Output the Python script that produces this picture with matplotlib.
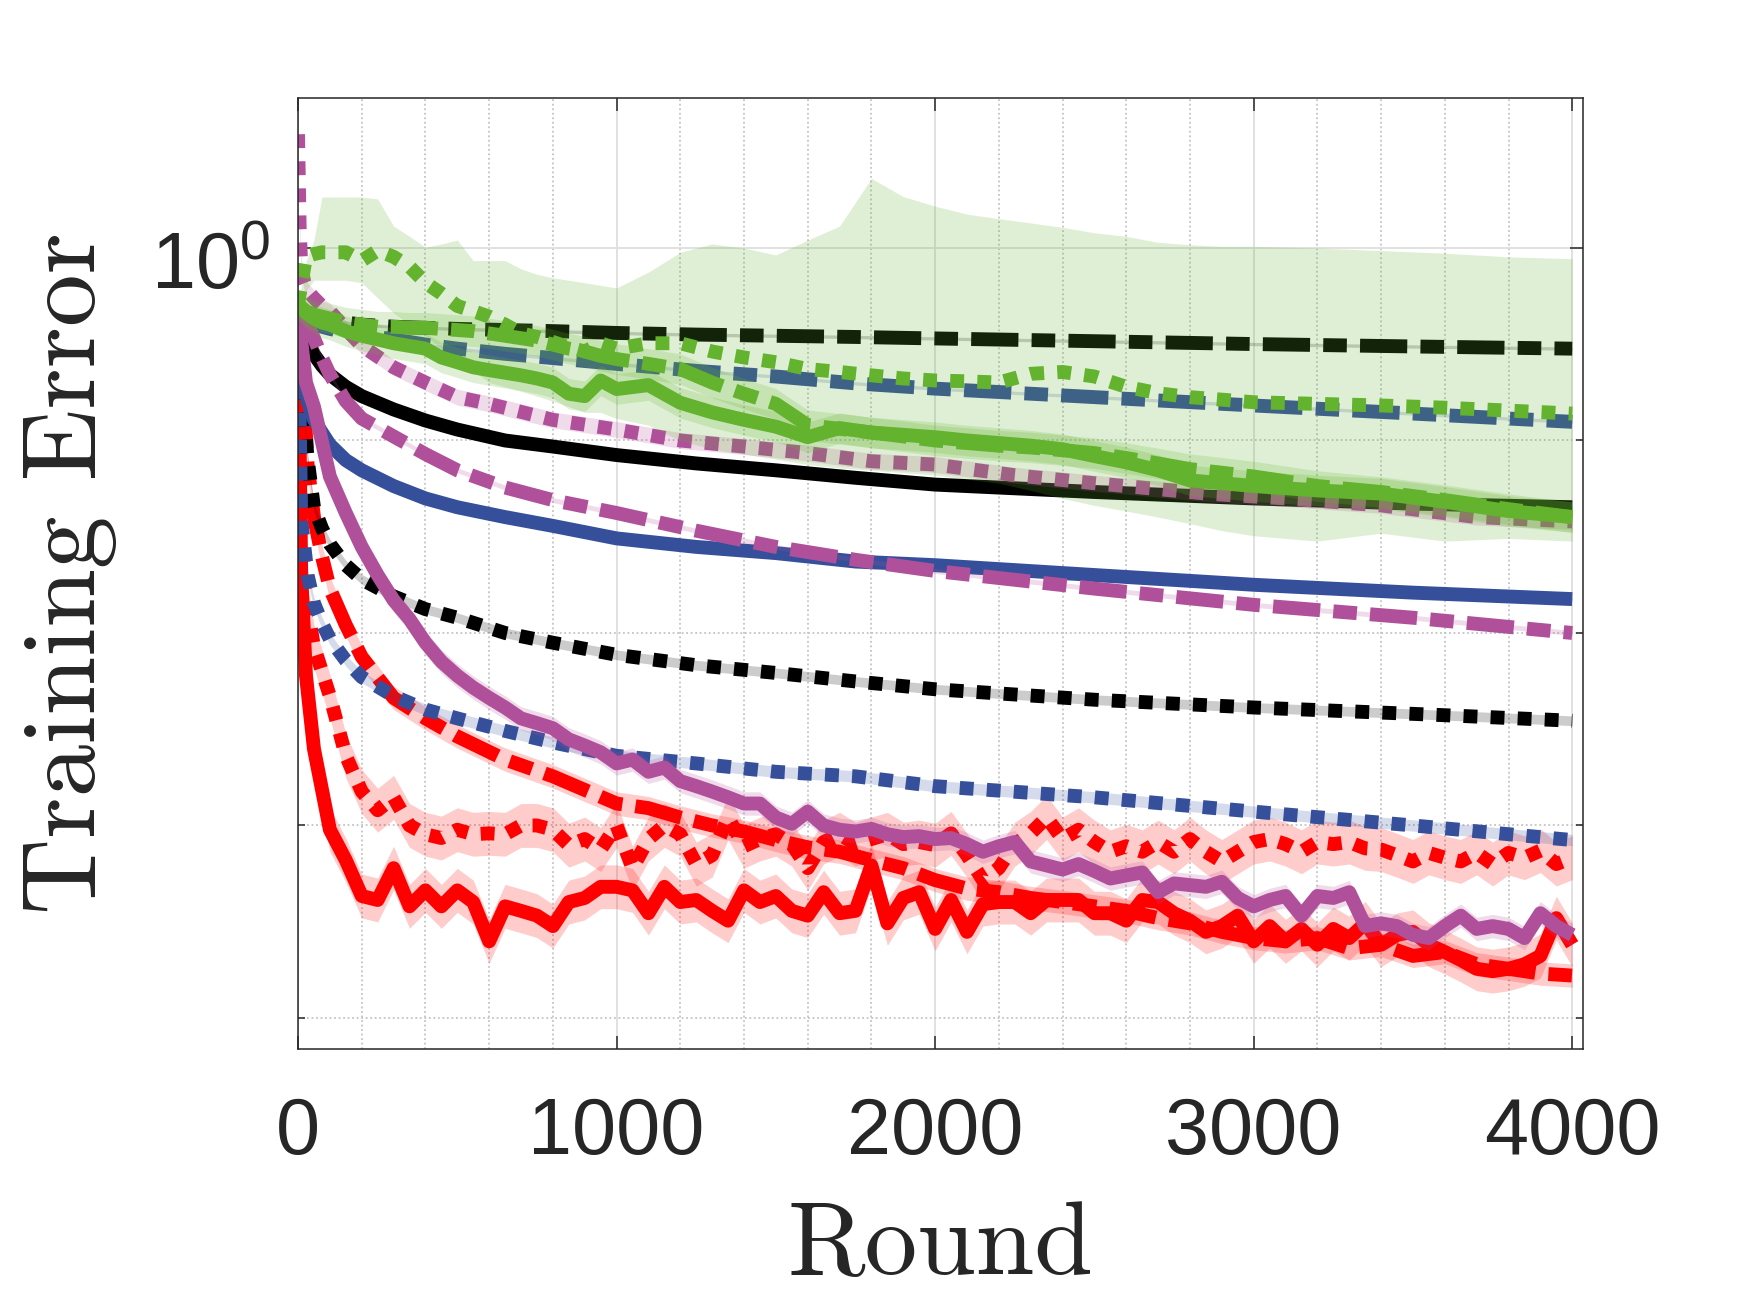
import matplotlib
matplotlib.use("Agg")
import matplotlib.pyplot as plt
from matplotlib.ticker import FixedLocator, MultipleLocator, NullFormatter, FixedFormatter
from matplotlib.transforms import ScaledTranslation
import numpy as np

# ---------------- data ----------------
# smooth curves share this sampling grid
rounds_s = [0, 10, 20, 30, 50, 75, 100, 150, 200, 300, 400, 500, 650, 800,
            1000, 1250, 1500, 1750, 2000, 2500, 3000, 3500, 4000]

black_dashdot = [0.51, 0.47, 0.45, 0.44, 0.43, 0.425, 0.42, 0.41, 0.40, 0.39, 0.385, 0.38,
                 0.375, 0.37, 0.362, 0.355, 0.35, 0.345, 0.339, 0.328, 0.317, 0.308, 0.30]
black_solid = [0.51, 0.44, 0.38, 0.33, 0.28, 0.245, 0.22, 0.19, 0.17, 0.145, 0.127, 0.114,
               0.10, 0.093, 0.084, 0.076, 0.070, 0.064, 0.059, 0.054, 0.050, 0.047, 0.045]
black_dotted = [0.51, 0.25, 0.13, 0.08, 0.045, 0.035, 0.029, 0.0225, 0.019, 0.0155, 0.0133, 0.012,
                0.010, 0.0089, 0.0077, 0.0068, 0.0062, 0.0056, 0.0051, 0.0045, 0.0041, 0.0038, 0.0035]
blue_dashdot = [0.51, 0.46, 0.44, 0.42, 0.41, 0.39, 0.38, 0.365, 0.355, 0.335, 0.315, 0.30,
                0.282, 0.268, 0.25, 0.23, 0.215, 0.198, 0.186, 0.168, 0.152, 0.138, 0.125]
blue_solid = [0.51, 0.30, 0.20, 0.16, 0.128, 0.11, 0.095, 0.079, 0.07, 0.058, 0.05, 0.045,
              0.04, 0.036, 0.031, 0.028, 0.026, 0.0235, 0.0225, 0.02, 0.0178, 0.0162, 0.015]
blue_dotted = [0.51, 0.038, 0.028, 0.02, 0.0143, 0.0113, 0.0093, 0.0072, 0.0059, 0.0047, 0.004, 0.0036,
               0.0031, 0.0027, 0.0023, 0.0021, 0.0019, 0.0018, 0.0016, 0.0014, 0.00118, 0.001, 0.00084]
purple_dashdot = [0.51, 0.47, 0.44, 0.40, 0.34, 0.27, 0.22, 0.16, 0.13, 0.105, 0.085, 0.07,
                  0.057, 0.049, 0.042, 0.034, 0.028, 0.024, 0.021, 0.017, 0.014, 0.012, 0.010]

purple_dotted_x = [0, 5, 10, 20, 30, 50, 75, 100, 150, 200, 300, 400, 500, 600, 800, 1000,
                   1200, 1400, 1600, 1800, 2000, 2250, 2500, 2850, 3100, 3400, 3700, 4000]
purple_dotted = [3.9, 1.3, 0.8, 0.66, 0.6, 0.55, 0.5, 0.47, 0.38, 0.31, 0.24, 0.2, 0.168, 0.155,
                 0.128, 0.114, 0.1, 0.093, 0.086, 0.078, 0.075, 0.066, 0.06, 0.053, 0.05, 0.046,
                 0.04, 0.038]

red_dashdot_x = [0, 10, 20, 30, 50, 75, 100, 150, 200, 300, 400, 500, 650, 800] + list(range(1000, 4001, 100))
red_dashdot = [0.51, 0.3, 0.15, 0.075, 0.04, 0.025, 0.017, 0.011, 0.0075, 0.0046, 0.0036, 0.0029,
               0.0022, 0.0018,
               0.0013, 0.00123, 0.0011, 0.001, 0.00093, 0.00084, 0.00077, 0.00073, 0.00066, 0.0006,
               0.00052, 0.00047, 0.00045, 0.00042, 0.0004, 0.00038, 0.00036, 0.00033, 0.00031, 0.00028,
               0.00026, 0.00025, 0.00026, 0.00023, 0.00024, 0.00021, 0.00022, 0.00019, 0.00018, 0.00017,
               0.000166]

# noisy curves, logged every 50 rounds (plus two early points)
rounds_n = [0, 10, 25] + list(range(50, 4001, 50))

red_solid = [0.51, 0.02, 0.006,
             0.0025, 0.00095, 0.00066, 0.00043, 0.00041, 0.0006, 0.00038, 0.00046, 0.00038, 0.00046,
             0.0004, 0.00025, 0.00038, 0.00036, 0.00034, 0.0003, 0.0004, 0.00042, 0.00048, 0.00048,
             0.00046, 0.00035, 0.00048, 0.0004, 0.00041, 0.00036, 0.00032, 0.00046, 0.0004, 0.00043,
             0.00036, 0.00034, 0.00045, 0.00035, 0.00036, 0.00062, 0.00031, 0.00042, 0.00045, 0.00029,
             0.00041, 0.00028, 0.00039, 0.0004, 0.0004, 0.00035, 0.00041, 0.00041, 0.00041, 0.00035,
             0.00035, 0.00032, 0.00041, 0.0004, 0.00035, 0.00032, 0.00028, 0.0003, 0.00034, 0.00025,
             0.0003, 0.00025, 0.00029, 0.00024, 0.00029, 0.00026, 0.00031, 0.00024, 0.00027, 0.00028,
             0.00024, 0.00022, 0.0002, 0.00018, 0.000175, 0.00018, 0.00019, 0.00021, 0.00033, 0.00024]
red_dotted = [0.51, 0.04, 0.015,
              0.0085, 0.0047, 0.0023, 0.0015, 0.0012, 0.0014, 0.001, 0.0009, 0.00086, 0.00095,
              0.0009, 0.00091, 0.0009, 0.001, 0.001, 0.00095, 0.00079, 0.00085, 0.00075, 0.001,
              0.0006, 0.00085, 0.001, 0.0009, 0.00063, 0.0007, 0.0011, 0.00078, 0.00085, 0.0009,
              0.0008, 0.0006, 0.00082, 0.0009, 0.0008, 0.00085, 0.0009, 0.0008, 0.00082, 0.00079,
              0.00091, 0.0007, 0.00052, 0.0006, 0.0008, 0.00091, 0.0011, 0.00085, 0.00095, 0.00082,
              0.00073, 0.00078, 0.00073, 0.00082, 0.00073, 0.00085, 0.00073, 0.00065, 0.00073, 0.00082,
              0.00085, 0.0008, 0.00073, 0.00082, 0.0008, 0.00082, 0.00076, 0.00075, 0.0007, 0.00065,
              0.00072, 0.00068, 0.00065, 0.00072, 0.00063, 0.00072, 0.00068, 0.00074, 0.00063, 0.00068]
purple_solid = [0.51, 0.33, 0.2,
                0.15, 0.065, 0.042, 0.028, 0.02, 0.0148, 0.0118, 0.0089, 0.0071, 0.006,
                0.0052, 0.0046, 0.0041, 0.0036, 0.0034, 0.0032, 0.0028, 0.0026, 0.0024, 0.0021,
                0.0022, 0.0019, 0.002, 0.0017, 0.0016, 0.0015, 0.0014, 0.0013, 0.0013, 0.0011,
                0.00102, 0.00118, 0.001, 0.00095, 0.00093, 0.00096, 0.0009, 0.00087, 0.00088, 0.00085,
                0.00086, 0.0008, 0.00073, 0.00078, 0.00082, 0.00065, 0.00062, 0.00059, 0.00063, 0.00058,
                0.00053, 0.00055, 0.00057, 0.00045, 0.0005, 0.00049, 0.00048, 0.00051, 0.00042, 0.00038,
                0.00041, 0.00043, 0.00034, 0.00043, 0.00042, 0.00045, 0.0003, 0.00031, 0.0003, 0.00027,
                0.00026, 0.0003, 0.00034, 0.00029, 0.0003, 0.00029, 0.00026, 0.00035, 0.0003, 0.00027]

# green curves
rounds_g = [0, 25, 50, 75, 100, 150, 200, 250, 300, 350, 400, 450, 500, 550, 600, 650, 700, 750,
            800, 850, 900, 950, 1000, 1100, 1200, 1300, 1400, 1500, 1600, 1700, 1800, 1900, 2000,
            2100, 2200, 2300, 2400, 2500, 2600, 2700, 2800, 2900, 3000, 3200, 3400, 3600, 3800, 4000]
green_dotted = [0.51, 0.9, 0.93, 0.95, 0.95, 0.95, 0.86, 0.97, 0.9, 0.8, 0.66, 0.58, 0.5, 0.47,
                0.44, 0.4, 0.36, 0.345, 0.325, 0.305, 0.29, 0.32, 0.30, 0.32, 0.32, 0.29, 0.27, 0.255,
                0.235, 0.227, 0.218, 0.21, 0.205, 0.203, 0.2, 0.222, 0.227, 0.215, 0.19, 0.176, 0.168,
                0.163, 0.158, 0.155, 0.152, 0.148, 0.143, 0.138]
green_dotted_hi = [0.51, 0.85, 1.1, 1.84, 1.84, 1.84, 1.84, 1.8, 1.3, 1.15, 1.01, 1.05, 1.1, 0.86,
                   0.86, 0.86, 0.78, 0.73, 0.7, 0.68, 0.66, 0.64, 0.62, 0.75, 0.95, 1.05, 1.0, 0.92,
                   1.1, 1.3, 2.3, 1.85, 1.65, 1.5, 1.42, 1.35, 1.28, 1.2, 1.15, 1.07, 1.04, 1.02, 1.02,
                   1.0, 0.97, 0.94, 0.9, 0.88]
green_dotted_lo = [0.51, 0.6, 0.68, 0.68, 0.68, 0.68, 0.66, 0.55, 0.46, 0.4, 0.35, 0.3, 0.26, 0.23,
                   0.2, 0.19, 0.18, 0.17, 0.16, 0.15, 0.14, 0.14, 0.13, 0.12, 0.1, 0.09, 0.085, 0.08,
                   0.075, 0.072, 0.07, 0.068, 0.066, 0.063, 0.06, 0.055, 0.05, 0.046, 0.043, 0.04,
                   0.037, 0.034, 0.032, 0.03, 0.033, 0.03, 0.031, 0.03]
green_solid = [0.51, 0.46, 0.43, 0.41, 0.40, 0.37, 0.35, 0.335, 0.32, 0.31, 0.30, 0.27, 0.255, 0.24,
               0.232, 0.225, 0.218, 0.21, 0.2, 0.175, 0.17, 0.205, 0.185, 0.194, 0.157, 0.14, 0.128,
               0.118, 0.104, 0.116, 0.11, 0.107, 0.104, 0.1, 0.097, 0.094, 0.09, 0.083, 0.077, 0.07,
               0.062, 0.06, 0.058, 0.055, 0.053, 0.048, 0.043, 0.040]
green_dashdot = [0.51, 0.47, 0.45, 0.44, 0.43, 0.41, 0.40, 0.39, 0.39, 0.385, 0.385, 0.38, 0.375,
                 0.37, 0.36, 0.35, 0.34, 0.33, 0.315, 0.30, 0.29, 0.275, 0.265, 0.25, 0.235, 0.2,
                 0.175, 0.155, 0.12, 0.115, 0.11, 0.105, 0.1, 0.097, 0.094, 0.092, 0.089, 0.086,
                 0.081, 0.076, 0.071, 0.068, 0.065, 0.058, 0.054, 0.049, 0.044, 0.04]

# ---------------- style ----------------
BLACK = '#000000'
BLUE = '#354f9b'
PURPLE = '#b04f9a'
GREEN = '#63b32e'
RED = '#ff0000'
TXT = '#262626'

LW = 10
SOLID = '-'
DOTTED = (0, (1.0, 0.95))
DASHDOT = (0, (3.4, 0.95, 1.7, 0.95))

plt.rcParams['font.family'] = ['Liberation Sans', 'DejaVu Sans']
plt.rcParams['mathtext.fontset'] = 'custom'
plt.rcParams['mathtext.rm'] = 'Liberation Sans'
plt.rcParams['mathtext.it'] = 'Liberation Sans:italic'
plt.rcParams['mathtext.bf'] = 'Liberation Sans:bold'

fig = plt.figure(figsize=(17.5, 13.13), dpi=100)
ax = fig.add_axes([0.1703, 0.2011, 0.7343, 0.7243])
ax.set_yscale('log')


def draw(x, y, color, style, spread=1.0, lo=None, hi=None):
    x = np.asarray(x, float)
    y = np.asarray(y, float)
    if lo is None and spread > 1.0:
        lo, hi = y / spread, y * spread
    if lo is not None:
        ax.fill_between(x, lo, hi, color=color, alpha=0.2, lw=0, zorder=2)
    ax.plot(x, y, color=color, lw=LW, linestyle=style, zorder=2,
            solid_capstyle='butt', dash_capstyle='butt', solid_joinstyle='round')


# red first, green last (green bands sit on top of the others)
draw(rounds_n, red_solid, RED, SOLID, 1.3)
draw(rounds_n, red_dotted, RED, DOTTED, 1.3)
draw(red_dashdot_x, red_dashdot, RED, DASHDOT, 1.15)

draw(rounds_s, black_solid, BLACK, SOLID, 1.02)
draw(rounds_s, black_dotted, BLACK, DOTTED, 1.06)
draw(rounds_s, black_dashdot, BLACK, DASHDOT, 1.02)

draw(rounds_s, blue_solid, BLUE, SOLID, 1.02)
draw(rounds_s, blue_dotted, BLUE, DOTTED, 1.07)
draw(rounds_s, blue_dashdot, BLUE, DASHDOT, 1.02)

draw(rounds_n, purple_solid, PURPLE, SOLID, 1.15)
draw(purple_dotted_x, purple_dotted, PURPLE, DOTTED, 1.1)
draw(rounds_s, purple_dashdot, PURPLE, DASHDOT, 1.03)

draw(rounds_g, green_solid, GREEN, SOLID, 1.2)
draw(rounds_g, green_dashdot, GREEN, DASHDOT, 1.2)
draw(rounds_g, green_dotted, GREEN, DOTTED, lo=green_dotted_lo, hi=green_dotted_hi)

# ---------------- axes ----------------
ax.set_xlim(0, 4034)
ax.set_ylim(6.9e-5, 6.02)

ax.xaxis.set_major_locator(FixedLocator([0, 1000, 2000, 3000, 4000]))
ax.xaxis.set_major_formatter(FixedFormatter(['0', '1000', '2000', '3000', '4000']))
ax.xaxis.set_minor_locator(MultipleLocator(200))
ax.yaxis.set_major_locator(FixedLocator([1.0]))
ax.yaxis.set_major_formatter(FixedFormatter([r'$10^0$']))
ax.yaxis.set_minor_locator(FixedLocator([1e-4, 1e-3, 1e-2, 1e-1]))
ax.yaxis.set_minor_formatter(NullFormatter())

ax.tick_params(which='major', direction='in', length=9.4, width=1.1, top=True, right=True,
               labelsize=57, colors=TXT)
ax.tick_params(axis='x', which='major', pad=34)
ax.tick_params(axis='y', which='major', pad=20)
ax.tick_params(axis='x', which='minor', length=0)
ax.tick_params(axis='y', which='minor', direction='in', length=5, width=1.1,
               left=True, right=True, colors=TXT)

ax.set_axisbelow(True)
ax.grid(True, which='major', color='#dedede', lw=1.3, ls='-')
ax.grid(True, which='minor', color='#c4c4c4', lw=1.3, ls=(0, (1, 1.5)))

for sp in ax.spines.values():
    sp.set_color(TXT)
    sp.set_linewidth(1.1)

# the 10^0 label sits a little below its tick in the reference
for lab in ax.get_yticklabels():
    lab.set_transform(lab.get_transform() + ScaledTranslation(0, -0.12, fig.dpi_scale_trans))

ax.set_xlabel('Round', fontfamily='cmr10', fontsize=76, color=TXT)
ax.xaxis.set_label_coords(0.5, -0.16)
ax.set_ylabel('Training Error', fontfamily='cmr10', fontsize=76, color=TXT)
ax.yaxis.set_label_coords(-0.141, 0.5)

fig.savefig('out.png', dpi=100)
